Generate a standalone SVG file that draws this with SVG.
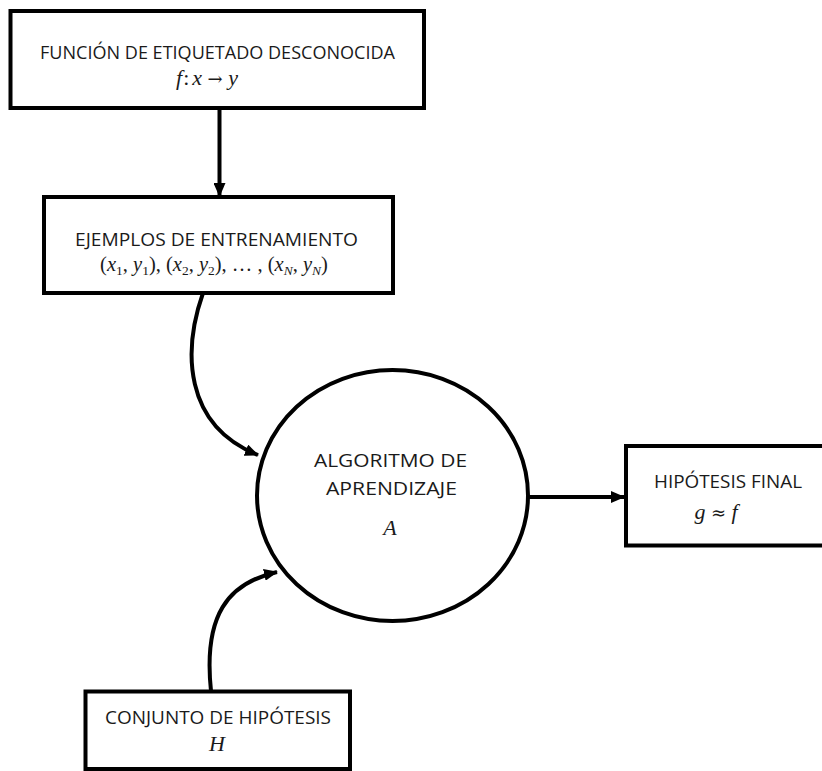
<svg xmlns="http://www.w3.org/2000/svg" width="822" height="771" viewBox="0 0 822 771">
  <defs>
    <style>
      .box { fill: #ffffff; stroke: #000000; stroke-width: 4; }
      .edge { fill: none; stroke: #000000; stroke-width: 4; }
      .lbl { font-family: "Open Sans", "Liberation Sans", Arial, sans-serif; font-size: 18.5px; fill: #1a1a1a; text-anchor: middle; }
      .math { font-family: "Liberation Serif", "DejaVu Serif", serif; font-style: italic; font-size: 22px; fill: #1a1a1a; text-anchor: middle; }
      .pairs { font-size: 20.5px; }
      .up { font-style: normal; }
      .sym { font-family: "DejaVu Serif", serif; font-style: normal; font-size: 18px; }
      .sub { font-size: 13.5px; }
    </style>
    <marker id="arrow" viewBox="0 0 14 12" refX="13" refY="6" markerWidth="14" markerHeight="12" markerUnits="userSpaceOnUse" orient="auto">
      <path d="M0,0 L14,6 L0,12 Z" fill="#000000"/>
    </marker>
  </defs>
  <rect width="822" height="771" fill="#ffffff"/>

  <!-- connectors -->
  <g id="connectors">
    <path class="edge" d="M219.5,108 L219.5,196" marker-end="url(#arrow)"/>
    <path class="edge" d="M203,293 C183,350 183,425 258,455" marker-end="url(#arrow)"/>
    <path class="edge" d="M528,497 L624,497" marker-end="url(#arrow)"/>
    <path class="edge" d="M211,691 C203,615 228,583 277,572" marker-end="url(#arrow)"/>
  </g>

  <!-- unknown target function -->
  <g id="target-function">
    <rect class="box" x="10.5" y="11" width="413.5" height="97"/>
    <text class="lbl" x="217.5" y="59" textLength="355" lengthAdjust="spacingAndGlyphs">FUNCIÓN DE ETIQUETADO DESCONOCIDA</text>
    <text class="math" x="207" y="85">f<tspan class="up" dx="1">:</tspan><tspan dx="3">x</tspan> <tspan class="sym">→</tspan> y</text>
  </g>

  <!-- training examples -->
  <g id="training-examples">
    <rect class="box" x="44" y="197" width="349" height="96"/>
    <text class="lbl" x="216.5" y="246" textLength="283" lengthAdjust="spacingAndGlyphs">EJEMPLOS DE ENTRENAMIENTO</text>
    <text class="math pairs" x="214" y="271"><tspan class="up">(</tspan>x<tspan class="sub up" baseline-shift="-4">1</tspan><tspan class="up">, </tspan>y<tspan class="sub up" baseline-shift="-4">1</tspan><tspan class="up">), (</tspan>x<tspan class="sub up" baseline-shift="-4">2</tspan><tspan class="up">, </tspan>y<tspan class="sub up" baseline-shift="-4">2</tspan><tspan class="up">), … , (</tspan>x<tspan class="sub" baseline-shift="-4">N</tspan><tspan class="up">, </tspan>y<tspan class="sub" baseline-shift="-4">N</tspan><tspan class="up">)</tspan></text>
  </g>

  <!-- learning algorithm -->
  <g id="learning-algorithm">
    <ellipse class="box" cx="392.5" cy="495.5" rx="135.5" ry="125.5"/>
    <text class="lbl" x="390.5" y="467" textLength="153" lengthAdjust="spacingAndGlyphs">ALGORITMO DE</text>
    <text class="lbl" x="391.5" y="495" textLength="131" lengthAdjust="spacingAndGlyphs">APRENDIZAJE</text>
    <text class="math" x="390" y="535">A</text>
  </g>

  <!-- final hypothesis -->
  <g id="final-hypothesis">
    <rect class="box" x="626" y="446" width="200" height="99.5"/>
    <text class="lbl" x="728" y="488" textLength="148" lengthAdjust="spacingAndGlyphs">HIPÓTESIS FINAL</text>
    <text class="math" x="716" y="519">g <tspan class="sym">≈</tspan> f</text>
  </g>

  <!-- hypothesis set -->
  <g id="hypothesis-set">
    <rect class="box" x="85.5" y="691.5" width="264.5" height="77.5"/>
    <text class="lbl" x="218" y="724" textLength="226" lengthAdjust="spacingAndGlyphs">CONJUNTO DE HIPÓTESIS</text>
    <text class="math" x="217" y="751">H</text>
  </g>
</svg>
